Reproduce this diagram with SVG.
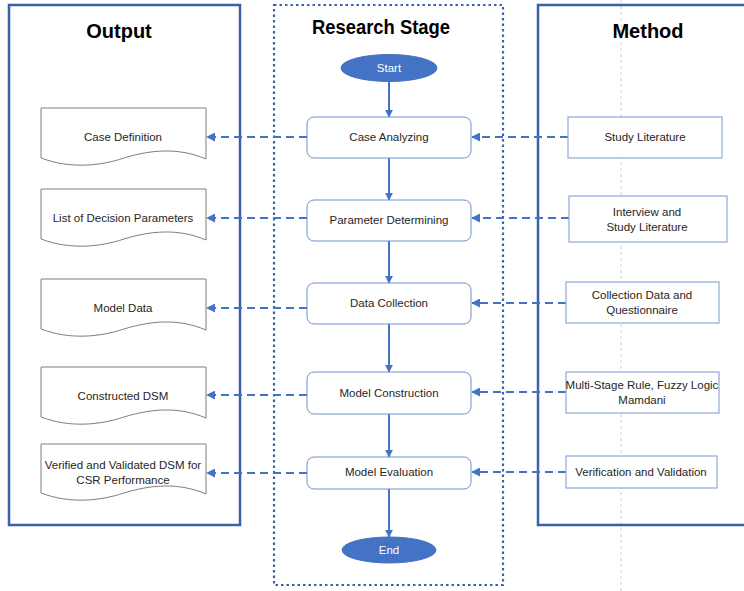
<svg xmlns="http://www.w3.org/2000/svg" width="744" height="591" viewBox="0 0 744 591">
<defs>
<marker id="ah" viewBox="0 0 10 10" refX="9" refY="5" markerWidth="8" markerHeight="8" markerUnits="userSpaceOnUse" orient="auto">
<path d="M0,0 L10,5 L0,10 Z" fill="#4472C4"/>
</marker>
<marker id="ahd" viewBox="0 0 10 10" refX="9" refY="5" markerWidth="9" markerHeight="9" markerUnits="userSpaceOnUse" orient="auto">
<path d="M0,0 L10,5 L0,10 Z" fill="#4472C4"/>
</marker>
</defs>
<style>
.frame{fill:none;stroke:#3A62A8;stroke-width:2.5}
.stage{fill:none;stroke:#3A62A8;stroke-width:2.2;stroke-dasharray:2.5 3}
.guide{stroke:#D0D0D0;stroke-width:1;stroke-dasharray:3 3}
.title{font-family:"Liberation Sans",Arial,sans-serif;font-weight:bold;font-size:20px;fill:#000;text-anchor:middle}
.t{font-family:"Liberation Sans",Arial,sans-serif;font-size:11.5px;fill:#262626;text-anchor:middle;dominant-baseline:central}
.tw{font-family:"Liberation Sans",Arial,sans-serif;font-size:11.5px;fill:#fff;text-anchor:middle;dominant-baseline:central}
.doc{fill:#fff;stroke:#7F7F7F;stroke-width:1}
.proc{fill:#fff;stroke:#6F8FCF;stroke-width:1}
.meth{fill:#fff;stroke:#8EA9DB;stroke-width:1.2}
.term{fill:#4472C4;stroke:#4472C4}
.flow{stroke:#4472C4;stroke-width:2;fill:none;marker-end:url(#ah)}
.dash{stroke:#4472C4;stroke-width:2;fill:none;stroke-dasharray:8 5;marker-end:url(#ahd)}
</style>
<rect width="744" height="591" fill="#fff"/>
<line class="guide" x1="621" y1="0" x2="621" y2="591"/>

<g id="output-frame">
<rect class="frame" x="9" y="5" width="231" height="520"/>
<text class="title" x="119" y="38">Output</text>
</g>
<g id="stage-frame">
<rect class="stage" x="274" y="5" width="229" height="580"/>
<text class="title" x="381" y="34" textLength="138" lengthAdjust="spacingAndGlyphs">Research Stage</text>
</g>
<g id="method-frame">
<path class="frame" d="M746,5 H538 V525 H746"/>
<text class="title" x="648" y="38">Method</text>
</g>

<g id="connectors">
<line class="flow" x1="389" y1="82" x2="389" y2="117"/>
<line class="flow" x1="389" y1="158" x2="389" y2="200"/>
<line class="flow" x1="389" y1="241" x2="389" y2="283"/>
<line class="flow" x1="389" y1="324" x2="389" y2="372"/>
<line class="flow" x1="389" y1="414" x2="389" y2="457"/>
<line class="flow" x1="389" y1="489" x2="389" y2="537"/>

<line class="dash" x1="568" y1="137" x2="472" y2="137"/>
<line class="dash" x1="569" y1="218" x2="472" y2="218"/>
<line class="dash" x1="566" y1="303" x2="472" y2="303"/>
<line class="dash" x1="566" y1="392" x2="472" y2="392"/>
<line class="dash" x1="566" y1="472" x2="472" y2="472"/>

<line class="dash" x1="307" y1="137" x2="207" y2="137"/>
<line class="dash" x1="307" y1="218" x2="207" y2="218"/>
<line class="dash" x1="307" y1="308" x2="207" y2="308"/>
<line class="dash" x1="307" y1="395" x2="207" y2="395"/>
<line class="dash" x1="307" y1="473" x2="207" y2="473"/>
</g>

<g id="start">
<ellipse class="term" cx="389" cy="68" rx="48" ry="13.5"/>
<text class="tw" x="389" y="68">Start</text>
</g>
<g id="case-analyzing">
<rect class="proc" x="307" y="117" width="164" height="41" rx="7"/>
<text class="t" x="389" y="137">Case Analyzing</text>
</g>
<g id="parameter-determining">
<rect class="proc" x="307" y="200" width="164" height="41" rx="7"/>
<text class="t" x="389" y="220">Parameter Determining</text>
</g>
<g id="data-collection">
<rect class="proc" x="307" y="283" width="164" height="41" rx="7"/>
<text class="t" x="389" y="303">Data Collection</text>
</g>
<g id="model-construction">
<rect class="proc" x="307" y="372" width="164" height="42" rx="7"/>
<text class="t" x="389" y="393">Model Construction</text>
</g>
<g id="model-evaluation">
<rect class="proc" x="307" y="457" width="164" height="32" rx="7"/>
<text class="t" x="389" y="472">Model Evaluation</text>
</g>
<g id="end">
<ellipse class="term" cx="389" cy="550" rx="47" ry="13"/>
<text class="tw" x="389" y="550">End</text>
</g>

<g id="case-definition">
<path class="doc" d="M41,108 H206 V159 C178,147 150,150 124,158 C100,166 70,169 41,158 Z"/>
<text class="t" x="123" y="137">Case Definition</text>
</g>
<g id="decision-parameters">
<path class="doc" d="M41,189 H206 V240 C178,228 150,231 124,239 C100,247 70,250 41,239 Z"/>
<text class="t" x="123" y="218">List of Decision Parameters</text>
</g>
<g id="model-data">
<path class="doc" d="M41,279 H206 V330 C178,318 150,321 124,329 C100,337 70,340 41,329 Z"/>
<text class="t" x="123" y="308">Model Data</text>
</g>
<g id="constructed-dsm">
<path class="doc" d="M41,367 H206 V418 C178,406 150,409 124,417 C100,425 70,428 41,417 Z"/>
<text class="t" x="123" y="396">Constructed DSM</text>
</g>
<g id="verified-dsm">
<path class="doc" d="M41,444 H206 V494 C178,482 150,485 124,493 C100,501 70,504 41,493 Z"/>
<text class="t" x="123" y="465">Verified and Validated DSM for</text>
<text class="t" x="123" y="480">CSR Performance</text>
</g>

<g id="study-literature">
<rect class="meth" x="568" y="117" width="154" height="41"/>
<text class="t" x="645" y="137">Study Literature</text>
</g>
<g id="interview">
<rect class="meth" x="569" y="196" width="158" height="46"/>
<text class="t" x="647" y="212">Interview and</text>
<text class="t" x="647" y="227">Study Literature</text>
</g>
<g id="collection-data">
<rect class="meth" x="566" y="282" width="153" height="41"/>
<text class="t" x="642" y="295">Collection Data and</text>
<text class="t" x="642" y="310">Questionnaire</text>
</g>
<g id="multi-stage">
<rect class="meth" x="566" y="372" width="153" height="41"/>
<text class="t" x="642" y="385">Multi-Stage Rule, Fuzzy Logic</text>
<text class="t" x="642" y="400">Mamdani</text>
</g>
<g id="verification">
<rect class="meth" x="566" y="456" width="151" height="32"/>
<text class="t" x="641" y="472">Verification and Validation</text>
</g>
</svg>
